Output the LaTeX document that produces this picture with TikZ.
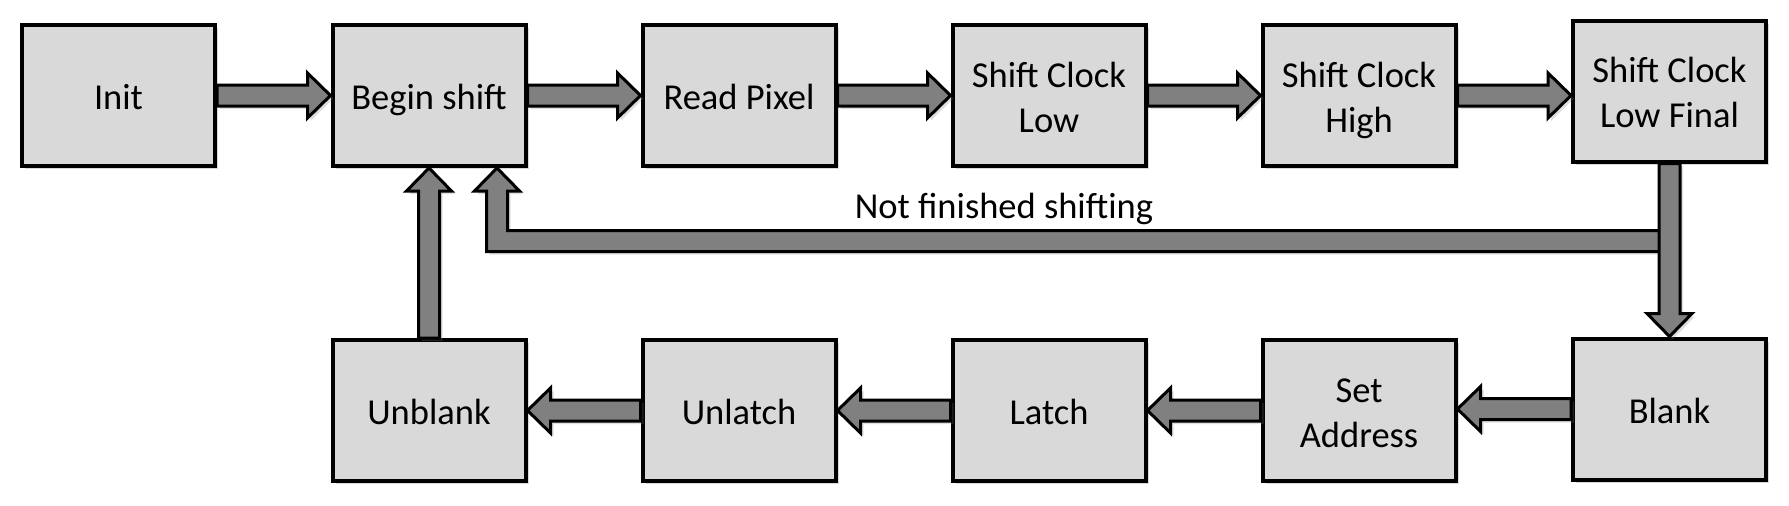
\documentclass[tikz,border=0pt]{standalone}
\usepackage{fontspec}
\setmainfont{Carlito}
\usetikzlibrary{calc,shadows}

\definecolor{boxgray}{HTML}{D9D9D9}
\definecolor{arrowgray}{HTML}{808080}

% same line box for every label
\newcommand{\vs}{\rule[-8pt]{0pt}{44pt}}
\newcommand{\two}[2]{\vs#1\\#2}

\tikzset{
  state/.style={draw=black, line width=4pt, fill=boxgray, minimum width=193pt, minimum height=141pt,
    inner sep=0pt, align=center, font=\fontsize{36.5}{45}\selectfont,
    execute at end node=\vs,
    drop shadow={shadow xshift=3pt, shadow yshift=-3pt, opacity=0.3}},
  fatarrow/.style={draw=black, line width=3pt, fill=arrowgray, line join=miter,
    drop shadow={shadow xshift=3pt, shadow yshift=-3pt, opacity=0.25}}
}

% block arrow from #1 to the tip #2
\newcommand{\fatarrow}[2]{%
  \draw[fatarrow] let \p1=(#1), \p2=(#2), \p3=($(\p2)!23pt!(\p1)$) in
    ($(\p1)!10.5pt!90:(\p2)$) -- ($(\p3)!10.5pt!-90:(\p1)$) -- ($(\p3)!22.5pt!-90:(\p1)$) -- (\p2)
    -- ($(\p3)!22.5pt!90:(\p1)$) -- ($(\p3)!10.5pt!90:(\p1)$) -- ($(\p1)!10.5pt!-90:(\p2)$) -- cycle;}

\begin{document}
\begin{tikzpicture}[x=1pt, y=1pt]
\useasboundingbox (0,0) rectangle (1789,-506);
% top row
\node [state] (init) at (118.5,-95.5) {Init};
\node [state] (begin) at (429,-95.5) {Begin shift};
\node [state] (read) at (739,-95.5) {Read Pixel};
\node [state] (scl) at (1049,-95.5) {\two{Shift Clock}{Low}};
\node [state] (sch) at (1359,-95.5) {\two{Shift Clock}{High}};
\node [state] (sclf) at (1669.5,-91) {\two{Shift Clock}{Low Final}};
% bottom row
\node [state] (blank) at (1669.5,-409) {Blank};
\node [state] (setaddr) at (1359,-410.5) {\two{Set}{Address}};
\node [state] (latch) at (1049,-410.5) {Latch};
\node [state] (unlatch) at (739,-410.5) {Unlatch};
\node [state] (unblank) at (429,-410.5) {Unblank};

\fatarrow{init.east}{begin.west}
\fatarrow{begin.east}{read.west}
\fatarrow{read.east}{scl.west}
\fatarrow{scl.east}{sch.west}
\fatarrow{sch.east}{sch.east -| sclf.west}
\fatarrow{blank.west}{blank.west -| setaddr.east}
\fatarrow{setaddr.west}{latch.east}
\fatarrow{latch.west}{unlatch.east}
\fatarrow{unlatch.west}{unblank.east}
\fatarrow{unblank.north}{begin.south}

% loop back
\coordinate (back) at (1669.5,-241);
\coordinate (backtip) at ($(begin.south)+(68,0)$);
\draw[fatarrow] let \p1=(back), \p2=(backtip) in
  (\x1,\y1+10.5pt) -- (\x2+10.5pt,\y1+10.5pt) -- (\x2+10.5pt,\y2-23pt) -- (\x2+22.5pt,\y2-23pt)
  -- (\p2) -- (\x2-22.5pt,\y2-23pt) -- (\x2-10.5pt,\y2-23pt) -- (\x2-10.5pt,\y1-10.5pt)
  -- (\x1,\y1-10.5pt) -- cycle;
\fatarrow{sclf.south}{sclf.south |- blank.north}
\node [font=\fontsize{36.5}{45}\selectfont] (lbl) at (1004,-209) {Not finished shifting};
\end{tikzpicture}
\end{document}
